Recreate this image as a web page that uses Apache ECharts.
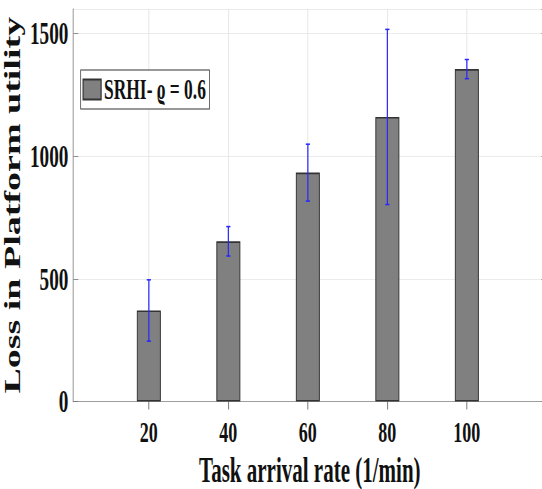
<!DOCTYPE html>
<html>
<head>
<meta charset="utf-8">
<script src="https://cdn.jsdelivr.net/npm/echarts@6/dist/echarts.min.js"></script>
<style>
  html, body { margin: 0; padding: 0; background: #fff; overflow: hidden; }
  #wrap { width: 542px; height: 489px; overflow: hidden; }
  /* The figure is laid out on a wider canvas and condensed horizontally */
  #chart { width: 904px; height: 489px; transform: scaleX(0.6); transform-origin: 0 0; }
</style>
</head>
<body>
<div id="wrap"><div id="chart"></div></div>
<script>
// Task arrival rates (1/min)
const arrivalRates = [20, 40, 60, 80, 100];
// Mean loss in platform utility
const lossMean = [371, 653, 933, 1160, 1355];
// Half-length of each error bar
const lossErr = [125, 60, 116, 357, 39];
// X tick labels
const xTickValues = [20, 40, 60, 80, 100];
const seriesName = 'SRHI- \u03f1 = 0.6';

const FONT = '"Liberation Serif", "Times New Roman", "DejaVu Serif", serif';
const AXIS_GREY = '#9a9a9a';
const GRID_GREY = '#e6e6e6';

const barData = arrivalRates.map((x, i) => [x, lossMean[i]]);
const errData = arrivalRates.map((x, i) => [x, lossMean[i] - lossErr[i], lossMean[i] + lossErr[i]]);

const chart = echarts.init(document.getElementById('chart'), null, { renderer: 'svg' });

const xCommon = {
  type: 'value', min: 1, max: 120,
  axisLine: { show: true, lineStyle: { color: AXIS_GREY, width: 1 } },
  axisTick: { show: true, inside: true, length: 8, customValues: xTickValues,
              lineStyle: { color: '#777', width: 1.6 } }
};
const yCommon = {
  type: 'value', min: 0, max: 1600, interval: 500,
  axisLine: { show: true, lineStyle: { color: AXIS_GREY, width: 1.7 } },
  axisTick: { show: true, inside: true, length: 8.3, lineStyle: { color: '#777', width: 1 } }
};

chart.setOption({
  animation: false,
  backgroundColor: '#fff',
  grid: { left: 122.2, top: 9, width: 788.4, height: 392.5, outerBoundsMode: 'none', containLabel: false },
  legend: {
    data: [seriesName],
    left: 134.5, top: 70,
    orient: 'vertical',
    icon: 'rect', itemWidth: 30, itemHeight: 20,
    padding: [5, 6, 5, 3],
    backgroundColor: '#fff', borderColor: '#333', borderWidth: 1.2, borderRadius: 0,
    textStyle: { fontFamily: FONT, fontWeight: 'bold', fontSize: 29, color: '#111' }
  },
  xAxis: [
    Object.assign({}, xCommon, {
      position: 'bottom',
      axisLabel: { show: true, customValues: xTickValues, margin: 15,
                   fontFamily: FONT, fontWeight: 'bold', fontSize: 30, color: '#111' },
      splitLine: { show: true, lineStyle: { color: GRID_GREY, width: 1.6 } },
      name: 'Task arrival rate (1/min)',
      nameLocation: 'middle', nameGap: 51,
      nameTextStyle: { fontFamily: FONT, fontWeight: 'bold', fontSize: 35, color: '#111' }
    }),
    Object.assign({}, xCommon, {
      position: 'top',
      axisLabel: { show: false },
      splitLine: { show: false }
    })
  ],
  yAxis: [
    Object.assign({}, yCommon, {
      position: 'left',
      axisLabel: { show: true, margin: 8.3, showMaxLabel: false,
                   formatter: (v) => String(v),
                   fontFamily: FONT, fontWeight: 'bold', fontSize: 32, color: '#111' },
      splitLine: { show: true, lineStyle: { color: GRID_GREY, width: 1 } },
      name: 'Loss in Platform utility',
      nameLocation: 'middle', nameRotate: 90, nameGap: 59,
      nameTextStyle: { fontFamily: FONT, fontWeight: 'bold', fontSize: 38, color: '#111' }
    }),
    Object.assign({}, yCommon, {
      position: 'right',
      axisLabel: { show: false },
      splitLine: { show: false }
    })
  ],
  series: [
    {
      name: seriesName,
      type: 'bar',
      data: barData,
      barWidth: 40,
      itemStyle: { color: '#808080', borderColor: '#333', borderWidth: 1.6 },
      z: 2
    },
    {
      name: 'error',
      type: 'custom',
      data: errData,
      encode: { x: 0, y: [1, 2] },
      z: 5,
      renderItem: function (params, api) {
        const x = api.value(0);
        const lo = api.coord([x, api.value(1)]);
        const hi = api.coord([x, api.value(2)]);
        const half = 3.5;
        const stroke = '#2626ff';
        return {
          type: 'group',
          children: [
            { type: 'line', shape: { x1: lo[0], y1: lo[1], x2: hi[0], y2: hi[1] },
              style: { stroke: stroke, lineWidth: 2 } },
            { type: 'line', shape: { x1: lo[0] - half, y1: lo[1], x2: lo[0] + half, y2: lo[1] },
              style: { stroke: stroke, lineWidth: 1.5 } },
            { type: 'line', shape: { x1: hi[0] - half, y1: hi[1], x2: hi[0] + half, y2: hi[1] },
              style: { stroke: stroke, lineWidth: 1.5 } }
          ]
        };
      }
    }
  ]
});
</script>
</body>
</html>
